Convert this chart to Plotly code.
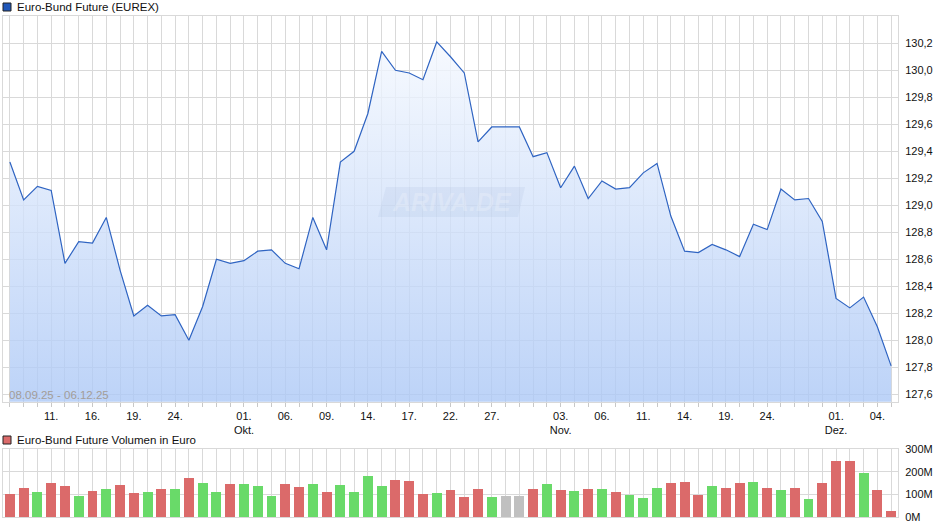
import plotly.graph_objects as go

# ---------------- data ----------------
dates = [
    "08.09.25", "09.09.25", "10.09.25", "11.09.25", "12.09.25", "15.09.25", "16.09.25", "17.09.25",
    "18.09.25", "19.09.25", "22.09.25", "23.09.25", "24.09.25", "25.09.25", "26.09.25", "29.09.25",
    "30.09.25",
    "01.10.25", "02.10.25", "03.10.25", "06.10.25", "07.10.25", "08.10.25", "09.10.25", "10.10.25",
    "13.10.25", "14.10.25", "15.10.25", "16.10.25", "17.10.25", "20.10.25", "21.10.25", "22.10.25",
    "23.10.25", "24.10.25", "27.10.25", "28.10.25", "29.10.25", "30.10.25", "31.10.25",
    "03.11.25", "04.11.25", "05.11.25", "06.11.25", "07.11.25", "10.11.25", "11.11.25", "12.11.25",
    "13.11.25", "14.11.25", "17.11.25", "18.11.25", "19.11.25", "20.11.25", "21.11.25", "24.11.25",
    "25.11.25", "26.11.25", "27.11.25", "28.11.25",
    "01.12.25", "02.12.25", "03.12.25", "04.12.25", "05.12.25",
]

prices = [
    129.32, 129.04, 129.14, 129.11, 128.57, 128.73, 128.72, 128.91, 128.52, 128.18,
    128.26, 128.18, 128.19, 128.00, 128.25, 128.60, 128.57, 128.59, 128.66, 128.67,
    128.57, 128.53, 128.91, 128.67, 129.32, 129.40, 129.68, 130.14, 130.00, 129.98,
    129.93, 130.21, 130.10, 129.98, 129.47, 129.58, 129.58, 129.58, 129.36, 129.39,
    129.13, 129.29, 129.05, 129.18, 129.12, 129.13, 129.24, 129.31, 128.92, 128.66,
    128.65, 128.71, 128.67, 128.62, 128.86, 128.82, 129.12, 129.04, 129.05, 128.88,
    128.31, 128.24, 128.32, 128.10, 127.81,
]

volumes_m = [
    102, 127, 109, 151, 136, 91, 114, 123, 141, 105,
    109, 123, 123, 172, 150, 109, 145, 145, 136, 91,
    145, 132, 145, 109, 141, 109, 181, 136, 163, 159,
    100, 105, 118, 87, 123, 87, 91, 91, 123, 145,
    118, 114, 123, 123, 109, 96, 82, 127, 150, 154,
    96, 136, 127, 150, 154, 127, 118, 127, 78, 150,
    249, 249, 195, 118, 25,
]

# direction of the day: r = down, g = up, n = unchanged
directions = list(
    "rrgrrgrgrr" "grgrggrggg" "rrgrggggrr" "rgrrrgnnrg"
    "rgrgrgggrr" "rgrrgrgrgr" "rrgrr"
)

tick_dates = ["11.09.25", "16.09.25", "19.09.25", "24.09.25", "01.10.25", "06.10.25",
              "09.10.25", "14.10.25", "17.10.25", "22.10.25", "27.10.25", "03.11.25",
              "06.11.25", "11.11.25", "14.11.25", "19.11.25", "24.11.25", "01.12.25",
              "04.12.25"]
tick_labels = ["11.", "16.", "19.", "24.", "01.<br>Okt.", "06.", "09.", "14.", "17.",
               "22.", "27.", "03.<br>Nov.", "06.", "11.", "14.", "19.", "24.",
               "01.<br>Dez.", "04."]

price_ticks = [127.6, 127.8, 128.0, 128.2, 128.4, 128.6, 128.8, 129.0, 129.2,
               129.4, 129.6, 129.8, 130.0, 130.2]
vol_ticks = [0, 100, 200, 300]
vol_tick_labels = ["0M", "100M", "200M", "300M"]

title_price = "Euro-Bund Future (EUREX)"
title_volume = "Euro-Bund Future Volumen in Euro"
period_text = "08.09.25 - 06.12.25"

# ---------------- styling ----------------
FONT = "Liberation Sans, Arial, sans-serif"
GRID = "#d9d9d9"
LINE = "#2f64c2"
COLMAP = {"r": "#db6a6a", "g": "#69da69", "n": "#c0c0c0"}

W, H = 940, 526
ML, MR, MT, MB = 3, 42, 16, 9
PW, PH = W - ML - MR, H - MT - MB


def px_x(px):
    return (px - ML) / PW


def px_y(py):
    return (H - MB - py) / PH


idx = list(range(len(dates)))
tick_pos = [dates.index(d) for d in tick_dates]
bar_colors = [COLMAP[d] for d in directions]

fig = go.Figure()

fig.add_trace(go.Scatter(
    x=idx, y=prices, mode="lines",
    line=dict(color=LINE, width=1.2),
    fill="tozeroy",
    fillgradient=dict(
        type="vertical",
        start=127.545, stop=130.402,
        colorscale=[[0, "rgba(172,200,246,0.80)"], [1, "rgba(250,252,255,0.80)"]],
    ),
    customdata=dates,
    hovertemplate="%{customdata}: %{y:.2f}<extra></extra>",
    xaxis="x", yaxis="y",
    showlegend=False,
))

fig.add_trace(go.Bar(
    x=idx, y=volumes_m, marker=dict(color=bar_colors, line=dict(width=0)),
    width=0.72,
    customdata=dates,
    hovertemplate="%{customdata}: %{y}M<extra></extra>",
    xaxis="x2", yaxis="y2",
    showlegend=False,
))

main_bottom = px_y(401.7)
vol_top = px_y(449.3)

common_x = dict(
    range=[-0.5, len(dates) - 0.5],
    showline=True, mirror=True, linecolor=GRID, linewidth=1,
    showgrid=True, gridcolor=GRID, gridwidth=1,
    zeroline=False,
    fixedrange=True,
)

fig.update_layout(
    width=W, height=H,
    margin=dict(l=ML, r=MR, t=MT, b=MB, autoexpand=False),
    paper_bgcolor="white", plot_bgcolor="white",
    separators=",.",
    font=dict(family=FONT, size=11, color="#111111"),
    bargap=0,
    xaxis=dict(
        **common_x,
        domain=[0, 1],
        anchor="y",
        tickmode="array", tickvals=tick_pos, ticktext=tick_labels,
        ticks="outside", ticklen=4, tickcolor="#c8c8c8",
        tickfont=dict(family=FONT, size=11, color="#111111"),
        minor=dict(dtick=1, tick0=0, ticks="outside", ticklen=4, tickcolor="#c8c8c8",
                   showgrid=True, gridcolor=GRID, gridwidth=1),
    ),
    yaxis=dict(
        domain=[main_bottom, 1],
        anchor="x",
        side="right",
        range=[127.545, 130.402],
        tickmode="array", tickvals=price_ticks, tickformat=".1f",
        showline=True, mirror=True, linecolor=GRID,
        showgrid=True, gridcolor=GRID, gridwidth=1,
        zeroline=False, ticks="", ticklabelstandoff=4,
        tickfont=dict(family=FONT, size=11, color="#111111"),
        fixedrange=True,
    ),
    xaxis2=dict(
        **common_x,
        domain=[0, 1],
        anchor="y2",
        showticklabels=False, ticks="",
        tickmode="linear", tick0=0, dtick=1,
    ),
    yaxis2=dict(
        domain=[0, vol_top],
        anchor="x2",
        side="right",
        range=[0, 300],
        tickmode="array", tickvals=vol_ticks, ticktext=vol_tick_labels,
        showline=True, mirror=True, linecolor=GRID,
        showgrid=True, gridcolor=GRID, gridwidth=1,
        zeroline=False, ticks="", ticklabelstandoff=4,
        tickfont=dict(family=FONT, size=11, color="#111111"),
        fixedrange=True,
    ),
)

# legend-like titles
shapes = [
    dict(type="rect", xref="paper", yref="paper",
         x0=px_x(3), x1=px_x(11), y0=px_y(11), y1=px_y(3),
         fillcolor="#1f56b8", line=dict(color="#222222", width=1)),
    dict(type="rect", xref="paper", yref="paper",
         x0=px_x(3), x1=px_x(11), y0=px_y(444), y1=px_y(436),
         fillcolor="#db6a6a", line=dict(color="#222222", width=1)),
    # watermark plate
    dict(type="path", xref="paper", yref="paper",
         path=("M {a},{b} L {c},{b} L {d},{e} L {f},{e} Z").format(
             a=px_x(378), b=px_y(217), c=px_x(518), d=px_x(525), e=px_y(187), f=px_x(386)),
         fillcolor="rgba(150,170,205,0.13)", line=dict(width=0), layer="above"),
]
annotations = [
    dict(text=title_price, xref="paper", yref="paper", x=px_x(15), y=px_y(7),
         xanchor="left", yanchor="middle", showarrow=False,
         font=dict(family=FONT, size=11.5, color="#111111")),
    dict(text=title_volume, xref="paper", yref="paper", x=px_x(15), y=px_y(440),
         xanchor="left", yanchor="middle", showarrow=False,
         font=dict(family=FONT, size=11.5, color="#111111")),
    dict(text=period_text, xref="paper", yref="paper", x=px_x(7), y=px_y(395),
         xanchor="left", yanchor="middle", showarrow=False,
         font=dict(family=FONT, size=11.5, color="#a39d98")),
    dict(text="ARIVA.DE", xref="paper", yref="paper", x=px_x(452), y=px_y(202),
         xanchor="center", yanchor="middle", showarrow=False,
         font=dict(family=FONT, size=25, color="rgba(255,255,255,0.22)",
                   weight="bold", style="italic")),
]
fig.update_layout(shapes=shapes, annotations=annotations)

fig.write_html(
    "out.html",
    config={"displayModeBar": False},
    post_script="document.body.style.margin='0px';document.body.style.overflow='hidden';",
)
